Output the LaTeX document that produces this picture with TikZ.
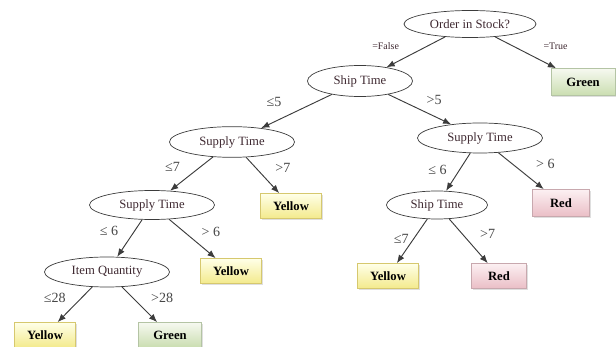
\documentclass[tikz,border=0pt]{standalone}
\usepackage{fontspec}
\setmainfont{Liberation Serif}
\usetikzlibrary{shapes.geometric,shadows,arrows.meta}

\definecolor{testtext}{RGB}{62,40,48}
\definecolor{condtext}{RGB}{70,70,70}
\definecolor{linegray}{RGB}{60,60,60}
\definecolor{yellowtop}{RGB}{255,255,232}
\definecolor{yellowbot}{RGB}{243,234,140}
\definecolor{yellowline}{RGB}{214,200,110}
\definecolor{greentop}{RGB}{246,249,240}
\definecolor{greenbot}{RGB}{202,221,176}
\definecolor{greenline}{RGB}{180,196,164}
\definecolor{redtop}{RGB}{252,240,242}
\definecolor{redbot}{RGB}{234,190,198}
\definecolor{redline}{RGB}{200,168,174}

\begin{document}
\begin{tikzpicture}[x=0.03cm,y=-0.03cm,
  test/.style={draw=linegray, ellipse, line width=0.6pt, inner sep=0pt,
    minimum width=3.75cm, minimum height=0.92cm,
    font=\fontsize{10.8}{13}\selectfont, text=testtext},
  leaf/.style={rectangle, line width=0.6pt, inner sep=0pt,
    minimum width=1.83cm, minimum height=0.75cm,
    font=\bfseries\fontsize{10.8}{13}\selectfont,
    drop shadow={shadow xshift=1.2pt, shadow yshift=-1.2pt, opacity=0.25}},
  yellowleaf/.style={leaf, draw=yellowline, top color=yellowtop, bottom color=yellowbot},
  greenleaf/.style={leaf, draw=greenline, top color=greentop, bottom color=greenbot},
  redleaf/.style={leaf, draw=redline, top color=redtop, bottom color=redbot},
  branch/.style={draw=linegray, line width=0.8pt, -{Latex[length=7pt,width=5.5pt]}},
  cond/.style={font=\fontsize{12}{14}\selectfont, text=condtext, inner sep=1.5pt},
  flag/.style={font=\fontsize{8.5}{10}\selectfont, text=testtext, inner sep=2pt}]

\useasboundingbox (0,0) rectangle (616,347);

% tests
\node[test, minimum width=3.96cm, minimum height=0.81cm] (stock) at (470,24) {Order in Stock?};
\node[test, minimum width=3.15cm, minimum height=0.93cm] (ship1) at (360,81) {Ship Time};
\node[test] (supplyL) at (232,142) {Supply Time};
\node[test, minimum height=0.9cm] (supplyR) at (480,138) {Supply Time};
\node[test, minimum height=0.87cm] (supply2) at (152,205) {Supply Time};
\node[test, minimum height=0.9cm] (item) at (107,272) {Item Quantity};
\node[test, minimum width=3.03cm, minimum height=0.84cm] (ship2) at (437,205) {Ship Time};

% leaves
\node[greenleaf, minimum width=1.92cm, minimum height=0.81cm] (green1) at (583,82) {Green};
\node[yellowleaf] (yellow1) at (291,206) {Yellow};
\node[yellowleaf] (yellow2) at (231,271) {Yellow};
\node[yellowleaf] (yellow3) at (45,335) {Yellow};
\node[greenleaf, minimum width=1.89cm] (green2) at (170,335) {Green};
\node[redleaf, minimum width=1.71cm, minimum height=0.81cm] (red1) at (561,203) {Red};
\node[yellowleaf] (yellow4) at (388,276) {Yellow};
\node[redleaf, minimum width=1.65cm] (red2) at (499,276) {Red};

% branches
\path[branch] (stock) -- node[flag, above left, xshift=-12pt] {=False} (ship1);
\path[branch] (stock) -- node[flag, above right, xshift=13pt] {=True} (green1);
\path[branch] (ship1) -- node[cond, above left, xshift=-11pt, yshift=2pt] {≤5} (supplyL);
\path[branch] (ship1) -- node[cond, above right, xshift=4pt, yshift=2pt] {>5} (supplyR);
\path[branch] (supplyL) -- node[cond, above left, xshift=-8pt] {≤7} (supply2);
\path[branch] (supplyL) -- node[cond, above right, xshift=9pt] {>7} (yellow1);
\path[branch] (supplyR) -- node[cond, left, xshift=-8pt, yshift=2pt] {≤ 6} (ship2);
\path[branch] (supplyR) -- node[cond, above right, xshift=11pt] {> 6} (red1);
\path[branch] (supply2) -- node[cond, above left, xshift=-8pt] {≤ 6} (item);
\path[branch] (supply2) -- node[cond, above right, xshift=6pt] {> 6} (yellow2);
\path[branch] (item) -- node[cond, above left, xshift=-6pt] {≤28} (yellow3);
\path[branch] (item) -- node[cond, above right, xshift=8pt] {>28} (green2);
\path[branch] (ship2) -- node[cond, left, xshift=-1pt, yshift=2pt] {≤7} (yellow4);
\path[branch] (ship2) -- node[cond, above right, xshift=8pt] {>7} (red2);
\end{tikzpicture}
\end{document}
